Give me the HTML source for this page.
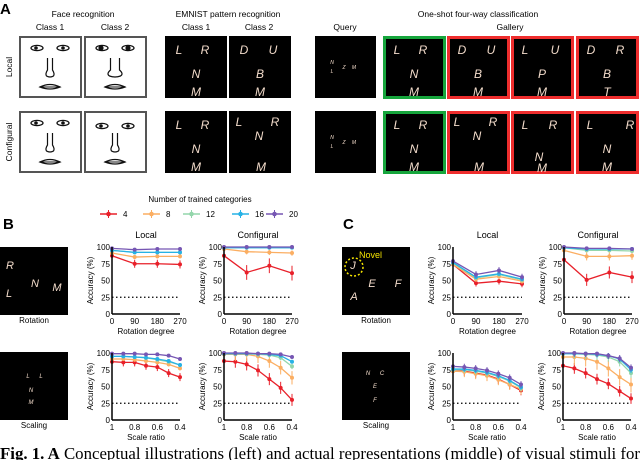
<!DOCTYPE html>
<html><head><meta charset="utf-8"><style>
html,body{margin:0;padding:0;background:#fff;}
svg{display:block;font-family:"Liberation Sans",Arial,sans-serif;}
</style></head><body>
<svg id="fig" width="640" height="460" viewBox="0 0 640 460" xmlns="http://www.w3.org/2000/svg">
<g id="panelA">
<text x="0" y="14" font-size="15" font-weight="bold">A</text>
<text x="83" y="17" font-size="8.5" text-anchor="middle">Face recognition</text>
<text x="50" y="30" font-size="8.5" text-anchor="middle">Class 1</text>
<text x="115" y="30" font-size="8.5" text-anchor="middle">Class 2</text>
<text x="228" y="17" font-size="8.5" text-anchor="middle">EMNIST pattern recognition</text>
<text x="196" y="30" font-size="8.5" text-anchor="middle">Class 1</text>
<text x="259" y="30" font-size="8.5" text-anchor="middle">Class 2</text>
<text x="478" y="17" font-size="8.5" text-anchor="middle">One-shot four-way classification</text>
<text x="345" y="30" font-size="8.5" text-anchor="middle">Query</text>
<text x="510" y="30" font-size="8.5" text-anchor="middle">Gallery</text>
<text transform="translate(12,67) rotate(-90)" font-size="8.5" text-anchor="middle">Local</text>
<text transform="translate(12,142) rotate(-90)" font-size="8.5" text-anchor="middle">Configural</text>
</g>
<text x="3" y="229" font-size="15" font-weight="bold">B</text>
<text x="343" y="229" font-size="15" font-weight="bold">C</text>
<g id="legend">
<text x="200" y="202" font-size="8" text-anchor="middle">Number of trained categories</text>
</g>
<text x="0" y="459" font-size="16.5" textLength="640" lengthAdjust="spacingAndGlyphs" font-family="Liberation Serif, serif"><tspan font-weight="bold">Fig. 1. A</tspan> Conceptual illustrations (left) and actual representations (middle) of visual stimuli for</text>
</svg>
<script>
const NS="http://www.w3.org/2000/svg";
const svg=document.getElementById('fig');
function mk(tag,attrs,parent){const e=document.createElementNS(NS,tag);for(const k in attrs)e.setAttribute(k,attrs[k]);(parent||svg).appendChild(e);return e;}

// ---- data ----
const seriesNames=["4","8","12","16","20"];
const seriesColors=["#e8202a","#fbae62","#93d6ab","#27b2e6","#7656b3"];
const rotationDegrees=[0,90,180,270];
const rotationTicks=[0,90,180,270];
const scaleRatios=[1,0.9,0.8,0.7,0.6,0.5,0.4];
const scaleTicks=[1,0.8,0.6,0.4];
const accuracyTicks=[0,25,50,75,100];
const chanceLevel=25;

const bRotLocal4=[87,75,75,74], bRotLocal8=[91,85,86,86], bRotLocal12=[95,92,92,92], bRotLocal16=[95,92,92,92], bRotLocal20=[98,96,97,97];
const bRotConf4=[87,62,72,61], bRotConf8=[97,93,92,91], bRotConf12=[99,99,99,99], bRotConf16=[99,99,99,99], bRotConf20=[100,100,100,100];
const cRotLocal4=[74,46,49,45], cRotLocal8=[74,52,56,49], cRotLocal12=[76,54,59,51], cRotLocal16=[77,55,60,52], cRotLocal20=[79,59,65,55];
const cRotConf4=[81,51,62,55], cRotConf8=[95,86,86,87], cRotConf12=[99,95,95,94], cRotConf16=[99,97,97,97], cRotConf20=[100,98,98,97];
const bScLocal4=[87,86,86,81,79,70,64], bScLocal8=[91,91,90,88,86,83,77], bScLocal12=[95,95,94,93,90,87,82], bScLocal16=[95,95,94,93,91,88,82], bScLocal20=[99,99,99,98,98,96,91];
const bScConf4=[88,87,83,74,61,48,30], bScConf8=[98,98,98,95,88,78,63], bScConf12=[99,99,99,98,97,93,80], bScConf16=[99,99,99,99,98,96,87], bScConf20=[100,100,100,99,99,98,94];
const cScLocal4=[73,73,70,67,61,53,44], cScLocal8=[73,72,69,66,60,53,46], cScLocal12=[75,75,73,70,65,58,48], cScLocal16=[76,76,74,71,66,59,49], cScLocal20=[80,79,77,74,69,63,53];
const cScConf4=[81,77,70,61,54,43,32], cScConf8=[94,94,92,87,77,64,53], cScConf12=[99,99,98,97,94,87,70], cScConf16=[99,99,99,98,96,91,75], cScConf20=[100,100,99,99,96,92,78];
// error bar half-widths (%) per series
const bRotLocalErr=[6,3,2,2,1], bRotConfErr=[11,4,1,1,1];
const cRotLocalErr=[5,4,3,3,5], cRotConfErr=[9,6,2,2,2];
const bScLocalErr=[6,3,2,2,1], bScConfErr=[9,10,4,2,2];
const cScLocalErr=[7,8,5,4,5], cScConfErr=[8,12,7,5,5];

// ---- images of panel A ----
const white="#f3dccb";
function darkBox(x,y,w,h,name,border){
  const g=mk('g',{});
  mk('rect',{x:x,y:y,width:w,height:h,fill:'#000'},g);
  if(border) mk('rect',{x:x+1.5,y:y+1.5,width:w-3,height:h-3,fill:'none',stroke:border,'stroke-width':3},g);
  return g;
}
function letters(g,x,y,ls,size){
  ls.forEach(l=>{const t=mk('text',{x:x+l[1],y:y+l[2],'font-size':size||12,'font-style':'italic',fill:white,'text-anchor':'middle','font-family':'Liberation Sans, sans-serif'},g);t.textContent=l[0];});
}
function face(x,y,name,bigNose,eyeDark,lowEyes){
  const g=mk('g',{});
  mk('rect',{x:x+1,y:y+1,width:61,height:60,fill:'#fff',stroke:'#555','stroke-width':2},g);
  const ey=lowEyes?15:12;
  [18,44].forEach((ex,i)=>{
    mk('ellipse',{cx:x+ex,cy:y+ey,rx:6,ry:2.6,fill:'none',stroke:'#111','stroke-width':1.3},g);
    mk('circle',{cx:x+ex+(i?0:-1),cy:y+ey,r:eyeDark?2.6:1.8,fill:'#111'},g);
  });
  const nw=bigNose?9:5;
  mk('path',{d:`M${x+31-nw/2} ${y+22} L${x+31-nw/2} ${y+34} Q${x+31-nw} ${y+38} ${x+31-nw/2-1} ${y+40} Q${x+31} ${y+42} ${x+31+nw/2+1} ${y+40} Q${x+31+nw} ${y+38} ${x+31+nw/2} ${y+34} L${x+31+nw/2} ${y+22}`,fill:'none',stroke:'#111','stroke-width':1.2},g);
  mk('path',{d:`M${x+21} ${y+51} Q${x+31} ${y+46} ${x+41} ${y+51} Q${x+31} ${y+55} ${x+21} ${y+51} Z`,fill:'#fff',stroke:'#111','stroke-width':1.3},g);
  mk('line',{x1:x+21,y1:y+51,x2:x+41,y2:y+51,stroke:'#111','stroke-width':1},g);
}
face(19,36,'face-local-class1',false,false);
face(84,36,'face-local-class2',true,true);
face(19,111,'face-configural-class1',false,false);
face(84,111,'face-configural-class2',false,false,true);
const std=[['L',14,18],['R',40,18],['N',31,42],['M',31,60]];
let g;
g=darkBox(165,36,62,62,'emnist-local-class1');letters(g,165,36,std);
g=darkBox(229,36,62,62,'emnist-local-class2');letters(g,229,36,[['D',15,18],['U',44,18],['B',31,42],['M',31,60]]);
g=darkBox(165,111,62,62,'emnist-configural-class1');letters(g,165,111,std);
g=darkBox(229,111,62,62,'emnist-configural-class2');letters(g,229,111,[['L',10,15],['R',46,15],['N',30,29],['M',32,60]],12);
g=darkBox(315,36,61,62,'query-local');letters(g,315,36,[['N',17,28],['L',17,37],['Z',29,33],['M',39,33]],5);
g=darkBox(315,111,61,62,'query-configural');letters(g,315,111,[['N',17,28],['L',17,37],['Z',29,33],['M',39,33]],5);
const gx=[383,447,511,576];
const galTop=[std,[['D',15,18],['U',44,18],['B',31,42],['M',31,60]],[['L',14,18],['U',44,18],['P',31,42],['M',31,60]],[['D',15,18],['R',44,18],['B',31,42],['T',31,60]]];
const galBot=[std,[['L',10,15],['R',46,15],['N',30,29],['M',32,60]],[['L',14,18],['R',42,18],['N',28,50],['M',31,61]],[['L',14,18],['R',54,18],['N',31,42],['M',31,60]]];
gx.forEach((x,i)=>{
  const c=i==0?'#16a53c':'#ee2d2d';
  g=darkBox(x,36,63,63,'gallery-local-'+(i+1),c);letters(g,x,36,galTop[i]);
  g=darkBox(x,111,63,63,'gallery-configural-'+(i+1),c);letters(g,x,111,galBot[i]);
});
// ---- stimulus images panels B/C ----
function stim(x,y,name,label,ls,size){
  g=darkBox(x,y,68,68,name);letters(g,x,y,ls,size);
  const t=mk('text',{x:x+34,y:y+76,'font-size':8,'text-anchor':'middle',});t.textContent=label;
}
stim(0,247,'b-rotation-image','Rotation',[['L',9,50],['R',10,22],['N',35,40],['M',57,44]],11);
stim(0,352,'b-scaling-image','Scaling',[['L',28,26],['L',41,26],['N',31,40],['M',31,52]],6);
stim(342,247,'c-rotation-image','Rotation',[['J',11,22],['E',30,40],['F',56,40],['A',12,53]],11);
mk('circle',{cx:354,cy:267,r:9,fill:'none',stroke:'#f5e400','stroke-width':1.5,'stroke-dasharray':'2 2',});
(function(){const t=mk('text',{x:359,y:258,'font-size':9,fill:'#f5e400',});t.textContent='Novel';})();
stim(342,352,'c-scaling-image','Scaling',[['N',26,23],['C',40,23],['E',33,36],['F',33,50]],6);

// ---- legend ----
const lx=[100,143,183,232,266];
seriesNames.forEach((n,i)=>{
  const lg=mk('g',{},document.getElementById('legend'));
  
  
  mk('line',{x1:lx[i],y1:214,x2:lx[i]+17,y2:214,stroke:seriesColors[i],'stroke-width':1.5},lg);
  mk('line',{x1:lx[i]+8.5,y1:210,x2:lx[i]+8.5,y2:218,stroke:seriesColors[i],'stroke-width':1},lg);
  mk('circle',{cx:lx[i]+8.5,cy:214,r:2.3,fill:seriesColors[i]},lg);
  const t=mk('text',{x:lx[i]+23,y:217,'font-size':8},lg);t.textContent=n;
});

// ---- charts ----
function chart(name,x0,x1,yTop,yBot,xv,xt,xmap,series,errs,title,xlabel){
  const cg=mk('g',{});
  
  
  const sx=v=>x0+xmap(v)*(x1-x0);
  const sy=v=>yBot-(v/100)*(yBot-yTop);
  if(title){const t=mk('text',{x:(x0+x1)/2,y:yTop-9,'font-size':9,'text-anchor':'middle'},cg);t.textContent=title;}
  mk('line',{x1:x0,y1:sy(chanceLevel),x2:x1,y2:sy(chanceLevel),stroke:'#000','stroke-width':1.2,'stroke-dasharray':'1.5 2.5'},cg);
  series.forEach((s,si)=>{
    const sg=mk('g',{},cg);
    
    
    const pts=s.map((v,i)=>sx(xv[i])+','+sy(v)).join(' ');
    mk('polyline',{points:pts,fill:'none',stroke:seriesColors[si],'stroke-width':1.3},sg);
    s.forEach((v,i)=>{
      const e=errs[si];
      mk('line',{x1:sx(xv[i]),y1:sy(Math.min(100,v+e)),x2:sx(xv[i]),y2:sy(v-e),stroke:seriesColors[si],'stroke-width':1},sg);
      const p=mk('circle',{cx:sx(xv[i]),cy:sy(v),r:2,fill:seriesColors[si]},sg);
      
      
    });
  });
  mk('line',{x1:x0,y1:yTop,x2:x0,y2:yBot,stroke:'#000','stroke-width':1.5},cg);
  mk('line',{x1:x0,y1:yBot,x2:x1,y2:yBot,stroke:'#000','stroke-width':1.5},cg);
  accuracyTicks.forEach(v=>{
    const t=mk('text',{x:x0-2,y:sy(v)+3,'font-size':8,'text-anchor':'end'},cg);t.textContent=v;
  });
  xt.forEach(v=>{
    const t=mk('text',{x:sx(v),y:yBot+10,'font-size':8,'text-anchor':'middle'},cg);t.textContent=v;
  });
  const yl=mk('text',{transform:`translate(${x0-19},${(yTop+yBot)/2}) rotate(-90)`,'font-size':8,'text-anchor':'middle'},cg);
  
  
  yl.textContent='Accuracy (%)';
  const xl=mk('text',{x:(x0+x1)/2,y:yBot+20,'font-size':8,'text-anchor':'middle'},cg);
  
  
  xl.textContent=xlabel;
}
const rmap=v=>v/270, smap=v=>(1-v)/0.6;
chart('b-rotation-local',112,180,247,314,rotationDegrees,rotationTicks,rmap,[bRotLocal4,bRotLocal8,bRotLocal12,bRotLocal16,bRotLocal20],bRotLocalErr,'Local','Rotation degree');
chart('b-rotation-configural',224,292,247,314,rotationDegrees,rotationTicks,rmap,[bRotConf4,bRotConf8,bRotConf12,bRotConf16,bRotConf20],bRotConfErr,'Configural','Rotation degree');
chart('c-rotation-local',453,522,247,314,rotationDegrees,rotationTicks,rmap,[cRotLocal4,cRotLocal8,cRotLocal12,cRotLocal16,cRotLocal20],cRotLocalErr,'Local','Rotation degree');
chart('c-rotation-configural',564,632,247,314,rotationDegrees,rotationTicks,rmap,[cRotConf4,cRotConf8,cRotConf12,cRotConf16,cRotConf20],cRotConfErr,'Configural','Rotation degree');
chart('b-scaling-local',112,180,353,420,scaleRatios,scaleTicks,smap,[bScLocal4,bScLocal8,bScLocal12,bScLocal16,bScLocal20],bScLocalErr,null,'Scale ratio');
chart('b-scaling-configural',224,292,353,420,scaleRatios,scaleTicks,smap,[bScConf4,bScConf8,bScConf12,bScConf16,bScConf20],bScConfErr,null,'Scale ratio');
chart('c-scaling-local',453,521,353,420,scaleRatios,scaleTicks,smap,[cScLocal4,cScLocal8,cScLocal12,cScLocal16,cScLocal20],cScLocalErr,null,'Scale ratio');
chart('c-scaling-configural',563,631,353,420,scaleRatios,scaleTicks,smap,[cScConf4,cScConf8,cScConf12,cScConf16,cScConf20],cScConfErr,null,'Scale ratio');
</script>
</body></html>
